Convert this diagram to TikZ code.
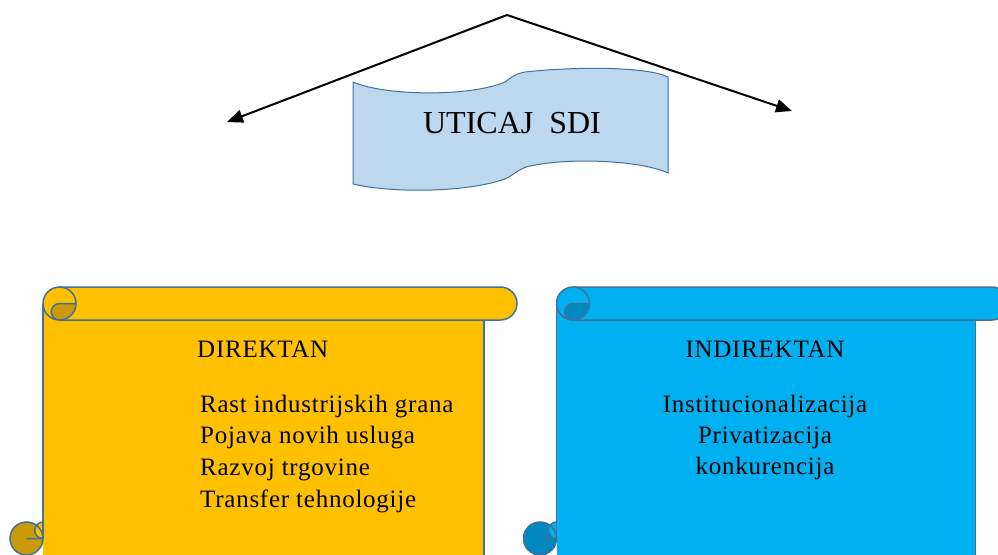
\documentclass[tikz,border=0pt]{standalone}
\usepackage{fontspec}
\setmainfont{Liberation Serif}
\newfontfamily\spacedfont[LetterSpace=3]{Liberation Serif}
\usetikzlibrary{arrows.meta}
\definecolor{scrollorange}{HTML}{FFC000}
\definecolor{scrollorangedark}{HTML}{CC9A06}
\definecolor{scrollblue}{HTML}{00B0F0}
\definecolor{scrollbluedark}{HTML}{0089C0}
\definecolor{edgeblue}{HTML}{41719C}
\definecolor{wavefill}{HTML}{BDD7EE}
% #1 left, #2 right, #3 top, #4 bottom, #5 main colour, #6 dark colour
\newcommand{\drawscroll}[6]{%
  \fill[#5] ({#1+33},{#3+16.5}) rectangle ({#2-33},{#4});
  \fill[#5] ({#1+49.5},{#3}) -- ({#2-16.5},{#3}) arc[start angle=-90,end angle=90,radius=16.5] -- ({#1+49.5},{#3+33}) -- cycle;
  \fill[#5] ({#1+49.5},{#3+16.5}) circle[radius=16.5];
  \fill[#6] ({#1+16.5},{#4-16.5}) circle[radius=16.5];
  \fill[#5] ({#1+33},{#4-33}) arc[start angle=-90,end angle=-270,radius=8.25] -- cycle;
  \fill[#6] ({#1+66},{#3+16.5}) arc[start angle=0,end angle=90,radius=16.5] arc[start angle=90,end angle=270,radius=8.25] -- cycle;
  \begin{scope}[scrolledge]
    \draw ({#1+49.5},{#3+16.5}) circle[radius=16.5];
    \draw ({#1+66},{#3+16.5}) -- ({#1+49.5},{#3+16.5}) arc[start angle=-90,end angle=-270,radius=8.25];
    \draw ({#1+49.5},{#3}) -- ({#2-16.5},{#3}) arc[start angle=-90,end angle=90,radius=16.5] -- ({#1+49.5},{#3+33});
    \draw ({#1+33},{#3+16.5}) -- ({#1+33},{#4-16.5});
    \draw ({#2-33},{#3+33}) -- ({#2-33},{#4+5});
    \draw ({#1+16.5},{#4-16.5}) circle[radius=16.5];
    \draw ({#1+33},{#4-33}) arc[start angle=-90,end angle=-270,radius=8.25] -- ({#1+16.5},{#4-16.5});
  \end{scope}}
\tikzset{
  scrolledge/.style={draw=edgeblue, line width=1.5pt},
  arrowline/.style={line width=2pt, -{Triangle[length=16pt,width=13pt]}},
  bodytext/.style={font=\spacedfont\fontsize{25}{30}\selectfont, inner sep=0pt},
  titletext/.style={font=\fontsize{32}{38}\selectfont, inner sep=0pt}
}
\begin{document}
\begin{tikzpicture}[x=1pt,y=-1pt]
\useasboundingbox (0,0) rectangle (998,554);
\clip (0,0) rectangle (998,554);
% arrows
\coordinate (apex) at (507,15);
\coordinate (ltip) at (227,122);
\coordinate (rtip) at (792,111);
\draw[arrowline] (apex) -- (ltip);
\draw[arrowline] (apex) -- (rtip);
% wave banner
\filldraw[fill=wavefill, draw=edgeblue, line width=1pt]
  (353,82) .. controls (385,96) and (470,97) .. (505,82)
  .. controls (511,78) and (514,74) .. (525,72)
  .. controls (580,66) and (648,67) .. (668,77)
  -- (668,173)
  .. controls (640,160) and (565,157) .. (526,167)
  .. controls (516,171) and (512,176) .. (505,179)
  .. controls (465,193) and (390,193) .. (353,184) -- cycle;
\node[titletext, anchor=base] (title) at (512,133) {UTICAJ\ \ SDI};
% scrolls
\drawscroll{10}{517}{287}{555}{scrollorange}{scrollorangedark}
\drawscroll{523.5}{1008.5}{287}{555}{scrollblue}{scrollbluedark}
% left texts
\node[bodytext, anchor=base west] (dir) at (197,357) {DIREKTAN};
\node[bodytext, anchor=base west] (d1) at (200,412) {Rast industrijskih grana};
\node[bodytext, anchor=base west] (d2) at (200,443) {Pojava novih usluga};
\node[bodytext, anchor=base west] (d3) at (200,475) {Razvoj trgovine};
\node[bodytext, anchor=base west] (d4) at (200,507) {Transfer tehnologije};
% right texts
\node[bodytext, anchor=base] (ind) at (765,357) {INDIREKTAN};
\node[bodytext, anchor=base] (i1) at (765,412) {Institucionalizacija};
\node[bodytext, anchor=base] (i2) at (765,443) {Privatizacija};
\node[bodytext, anchor=base] (i3) at (765,474) {konkurencija};
\end{tikzpicture}
\end{document}
